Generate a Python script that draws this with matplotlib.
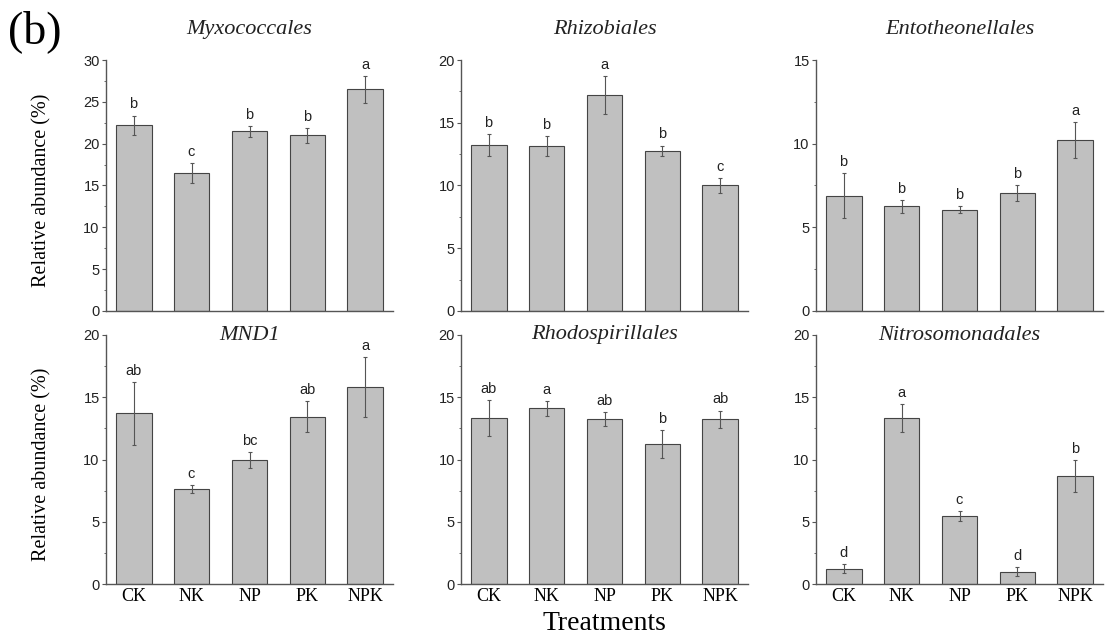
import matplotlib.pyplot as plt
from matplotlib.ticker import MultipleLocator

treatments = ['CK', 'NK', 'NP', 'PK', 'NPK']
orders = ['Myxococcales', 'Rhizobiales', 'Entotheonellales',
          'MND1', 'Rhodospirillales', 'Nitrosomonadales']

myxo = [22.2, 16.5, 21.5, 21.0, 26.5]
myxo_err = [1.15, 1.2, 0.65, 0.9, 1.6]
myxo_sig = ['b', 'c', 'b', 'b', 'a']

rhizo = [13.2, 13.15, 17.2, 12.75, 10.0]
rhizo_err = [0.87, 0.8, 1.5, 0.43, 0.58]
rhizo_sig = ['b', 'b', 'a', 'b', 'c']

ento = [6.9, 6.25, 6.05, 7.05, 10.2]
ento_err = [1.35, 0.38, 0.2, 0.47, 1.07]
ento_sig = ['b', 'b', 'b', 'b', 'a']

mnd1 = [13.7, 7.65, 9.95, 13.45, 15.8]
mnd1_err = [2.5, 0.32, 0.62, 1.25, 2.4]
mnd1_sig = ['ab', 'c', 'bc', 'ab', 'a']

rhodo = [13.35, 14.1, 13.25, 11.25, 13.25]
rhodo_err = [1.45, 0.58, 0.53, 1.14, 0.68]
rhodo_sig = ['ab', 'a', 'ab', 'b', 'ab']

nitro = [1.23, 13.3, 5.46, 1.0, 8.65]
nitro_err = [0.35, 1.13, 0.38, 0.35, 1.27]
nitro_sig = ['d', 'a', 'c', 'd', 'b']

means = [myxo, rhizo, ento, mnd1, rhodo, nitro]
errs = [myxo_err, rhizo_err, ento_err, mnd1_err, rhodo_err, nitro_err]
sigs = [myxo_sig, rhizo_sig, ento_sig, mnd1_sig, rhodo_sig, nitro_sig]
ymax = [30, 20, 15, 20, 20, 20]

serif = 'Liberation Serif'
sans = 'Liberation Sans'

W, H = 1105, 639
fig = plt.figure(figsize=(W / 100, H / 100), dpi=100)

lefts = [106, 461, 816]
rows = [(60, 311), (335, 584)]
x = range(1, 6)

for i in range(6):
    r, c = divmod(i, 3)
    top, bot = rows[r]
    ax = fig.add_axes([lefts[c] / W, 1 - bot / H, 287 / W, (bot - top) / H])
    ax.bar(x, means[i], width=0.62, color='#c0c0c0', edgecolor='#444444', linewidth=0.8)
    ax.errorbar(x, means[i], yerr=errs[i], fmt='none', ecolor='#555555',
                elinewidth=0.8, capsize=1.5, capthick=0.8)
    for xi, m, e, s in zip(x, means[i], errs[i], sigs[i]):
        ax.annotate(s, (xi, m + e), xytext=(0, 3), textcoords='offset points',
                    ha='center', va='bottom', fontsize=10.5, family=sans, color='#222222')
    ax.set_xlim(0.525, 5.475)
    ax.set_ylim(0, ymax[i])
    ax.yaxis.set_major_locator(MultipleLocator(5))
    ax.yaxis.set_minor_locator(MultipleLocator(2.5))
    for sp in ['top', 'right']:
        ax.spines[sp].set_visible(False)
    for sp in ['left', 'bottom']:
        ax.spines[sp].set_color('#555555')
        ax.spines[sp].set_linewidth(1.0)
    ax.tick_params(axis='y', which='major', length=3, width=0.8, color='#555555',
                   labelsize=10.5, pad=1.5, labelcolor='#222222')
    ax.tick_params(axis='y', which='minor', length=1.8, width=0.6, color='#555555')
    for lab in ax.get_yticklabels():
        lab.set_family(sans)
    ax.set_xticks(list(x))
    if r == 1:
        ax.set_xticklabels(treatments, fontsize=13, family=serif)
    else:
        ax.set_xticklabels([])
    ax.tick_params(axis='x', length=0, pad=3)
    ty = 1.12 if r == 0 else 1.0
    ax.text(0.5, ty, orders[i], transform=ax.transAxes, ha='center', va='center',
            fontsize=16, family=serif, style='italic', color='#222222')
    if c == 0:
        ax.set_ylabel('Relative abundance (%)', fontsize=14.5, family=serif)
        ax.yaxis.set_label_coords(-0.19, 0.48)

fig.text(604 / W, 1 - 623 / H, 'Treatments', ha='center', va='center',
         fontsize=20, family=serif)
fig.text(8 / W, 1 - 32 / H, '(b)', ha='left', va='center', fontsize=33, family=serif)

fig.savefig('out.png', dpi=100)
